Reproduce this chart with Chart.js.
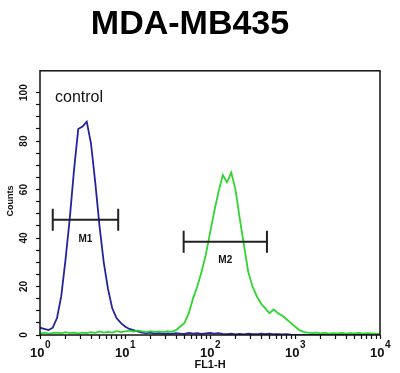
<!DOCTYPE html>
<html>
<head>
<meta charset="utf-8">
<script src="https://cdn.jsdelivr.net/npm/chart.js@4.4.1/dist/chart.umd.min.js"></script>
<style>
  html, body { margin: 0; padding: 0; background: #fff; }
</style>
</head>
<body>
<canvas id="facsChart" width="400" height="373"></canvas>
<script>
// FL1-H histogram, one value per channel (channels are 0.05 decade apart, 10^0 .. 10^4)
const blueCounts = [
  3, 2.5, 2, 3, 7, 16, 31, 48, 68, 85,
  86, 88, 79, 63, 45, 30, 19, 11, 7, 5,
  3.5, 2.5, 2, 1.5, 1, 0.8, 1, 0.6, 0.8, 0.5,
  0.7, 0.5, 0.8, 0.6, 0.5, 0.9, 0.6, 0.8, 0.5, 0.7,
  0.9, 0.6, 0.8, 0.5, 0.4, 0.6, 0.3, 0.5, 0.3, 0.6,
  0.4, 0.3, 0.6, 0.4, 0.6, 0.3, 0.4, 0.2, 0.3, 0.1,
  0, 0, 0, 0, 0, 0, 0, 0, 0, 0,
  0, 0, 0, 0, 0, 0, 0, 0, 0, 0, 0
];
const greenCounts = [
  0.5, 1, 0.6, 0.8, 1, 0.7, 1.2, 0.8, 1, 0.7,
  1, 0.8, 1.2, 0.9, 1.5, 1, 1.3, 1, 1.6, 1.2,
  1.5, 1.8, 1.4, 1.9, 1.5, 1.2, 1.6, 1.3, 1.5, 1.2,
  1.6, 1.3, 2, 3.5, 5, 9, 15, 20, 26, 33,
  42, 51, 59, 66, 63, 67, 60, 48, 37, 26,
  20, 16, 13, 11, 9, 10.5, 9, 8, 6.5, 5,
  3.5, 2, 1.3, 1, 0.8, 1, 0.7, 0.9, 0.6, 0.8,
  0.7, 0.9, 0.6, 0.8, 0.7, 0.9, 0.6, 0.8, 0.7, 0.6, 0.5
];
const channels = blueCounts.map((_, i) => i / 20);

// axis labels
const xDecades = [0, 1, 2, 3, 4];
const yLabels = [0, 20, 40, 60, 80, 100];

// marker gates (decades / counts)
const gateNames = ['M1', 'M2'];
const gateFrom = [0.15, 1.69];
const gateTo = [0.92, 2.67];
const gateLevel = [47.5, 38.5];

const minorTicks = [];
for (let d = 0; d < 4; d++) {
  for (let k = 1; k < 10; k++) minorTicks.push(d + Math.log10(k));
}
minorTicks.push(4);

const FONT = '"Liberation Sans", Arial, sans-serif';

const facsDecor = {
  id: 'facsDecor',
  afterDraw(chart) {
    const { ctx, chartArea: a, scales: { x, y } } = chart;
    ctx.save();
    ctx.strokeStyle = '#111';
    ctx.lineWidth = 1.5;
    ctx.strokeRect(a.left, a.top, a.right - a.left, a.bottom - a.top);

    ctx.fillStyle = '#111';
    ctx.textAlign = 'center';
    ctx.textBaseline = 'middle';

    // y tick labels, rotated
    ctx.font = 'bold 10px ' + FONT;
    yLabels.forEach(v => {
      ctx.save();
      ctx.translate(24, y.getPixelForValue(v));
      ctx.rotate(-Math.PI / 2);
      ctx.fillText(String(v), 0, 0);
      ctx.restore();
    });

    // Counts title
    ctx.save();
    ctx.font = 'bold 9px ' + FONT;
    ctx.translate(11, 201);
    ctx.rotate(-Math.PI / 2);
    ctx.fillText('Counts', 0, 0);
    ctx.restore();

    // x tick labels 10^n
    ctx.textBaseline = 'alphabetic';
    ctx.textAlign = 'left';
    xDecades.forEach(d => {
      ctx.font = 'bold 13px ' + FONT;
      const wb = ctx.measureText('10').width;
      ctx.font = 'bold 10px ' + FONT;
      const we = ctx.measureText(String(d)).width;
      const x0 = x.getPixelForValue(d) - (wb + we) / 2;
      ctx.font = 'bold 13px ' + FONT;
      ctx.fillText('10', x0, 357);
      ctx.font = 'bold 10px ' + FONT;
      ctx.fillText(String(d), x0 + wb + 0.5, 348);
    });

    ctx.textAlign = 'center';
    ctx.textBaseline = 'middle';
    ctx.font = 'bold 11px ' + FONT;
    ctx.fillText('FL1-H', 210, 365);

    // gates
    ctx.strokeStyle = '#222';
    ctx.lineWidth = 2;
    ctx.font = 'bold 10px ' + FONT;
    gateNames.forEach((name, i) => {
      const x1 = x.getPixelForValue(gateFrom[i]);
      const x2 = x.getPixelForValue(gateTo[i]);
      const yy = y.getPixelForValue(gateLevel[i]);
      ctx.beginPath();
      ctx.moveTo(x1, yy); ctx.lineTo(x2, yy);
      ctx.moveTo(x1, yy - 11); ctx.lineTo(x1, yy + 11);
      ctx.moveTo(x2, yy - 11); ctx.lineTo(x2, yy + 11);
      ctx.stroke();
      ctx.fillText(name, (x1 + x2) / 2, yy + 19);
    });

    ctx.textAlign = 'left';
    ctx.font = '16px ' + FONT;
    ctx.fillText('control', 55, 98);
    ctx.restore();
  }
};

new Chart(document.getElementById('facsChart'), {
  type: 'line',
  data: {
    datasets: [
      {
        label: 'sample',
        data: channels.map((c, i) => ({ x: c, y: greenCounts[i] })),
        borderColor: '#2fd62f',
        borderWidth: 1.8,
        pointRadius: 0,
        tension: 0
      },
      {
        label: 'control',
        data: channels.map((c, i) => ({ x: c, y: blueCounts[i] })),
        borderColor: '#2323a0',
        borderWidth: 1.8,
        pointRadius: 0,
        tension: 0
      }
    ]
  },
  options: {
    responsive: false,
    animation: false,
    layout: { padding: { left: 0, right: 20, top: 0, bottom: 0 } },
    plugins: {
      legend: { display: false },
      tooltip: { enabled: false },
      title: {
        display: true,
        text: 'MDA-MB435',
        color: '#000',
        font: { family: FONT, size: 34, weight: 'bold' },
        padding: { top: 4, bottom: 26 }
      }
    },
    scales: {
      x: {
        type: 'linear',
        min: 0,
        max: 4,
        afterBuildTicks: s => { s.ticks = minorTicks.map(v => ({ value: v })); },
        afterFit: s => { s.height = 38; },
        ticks: { display: false, autoSkip: false },
        border: { display: false },
        grid: { drawOnChartArea: false, drawTicks: true, tickLength: 4, tickColor: '#111', tickWidth: 1.2 }
      },
      y: {
        min: 0,
        max: 109,
        afterBuildTicks: s => { s.ticks = s.ticks.filter(t => t.value % 5 === 0); },
        afterFit: s => { s.width = 40; },
        ticks: { display: false, stepSize: 5 },
        border: { display: false },
        grid: { drawOnChartArea: false, drawTicks: true, tickLength: 4, tickColor: '#111', tickWidth: 1.2 }
      }
    }
  },
  plugins: [facsDecor]
});
</script>
</body>
</html>
